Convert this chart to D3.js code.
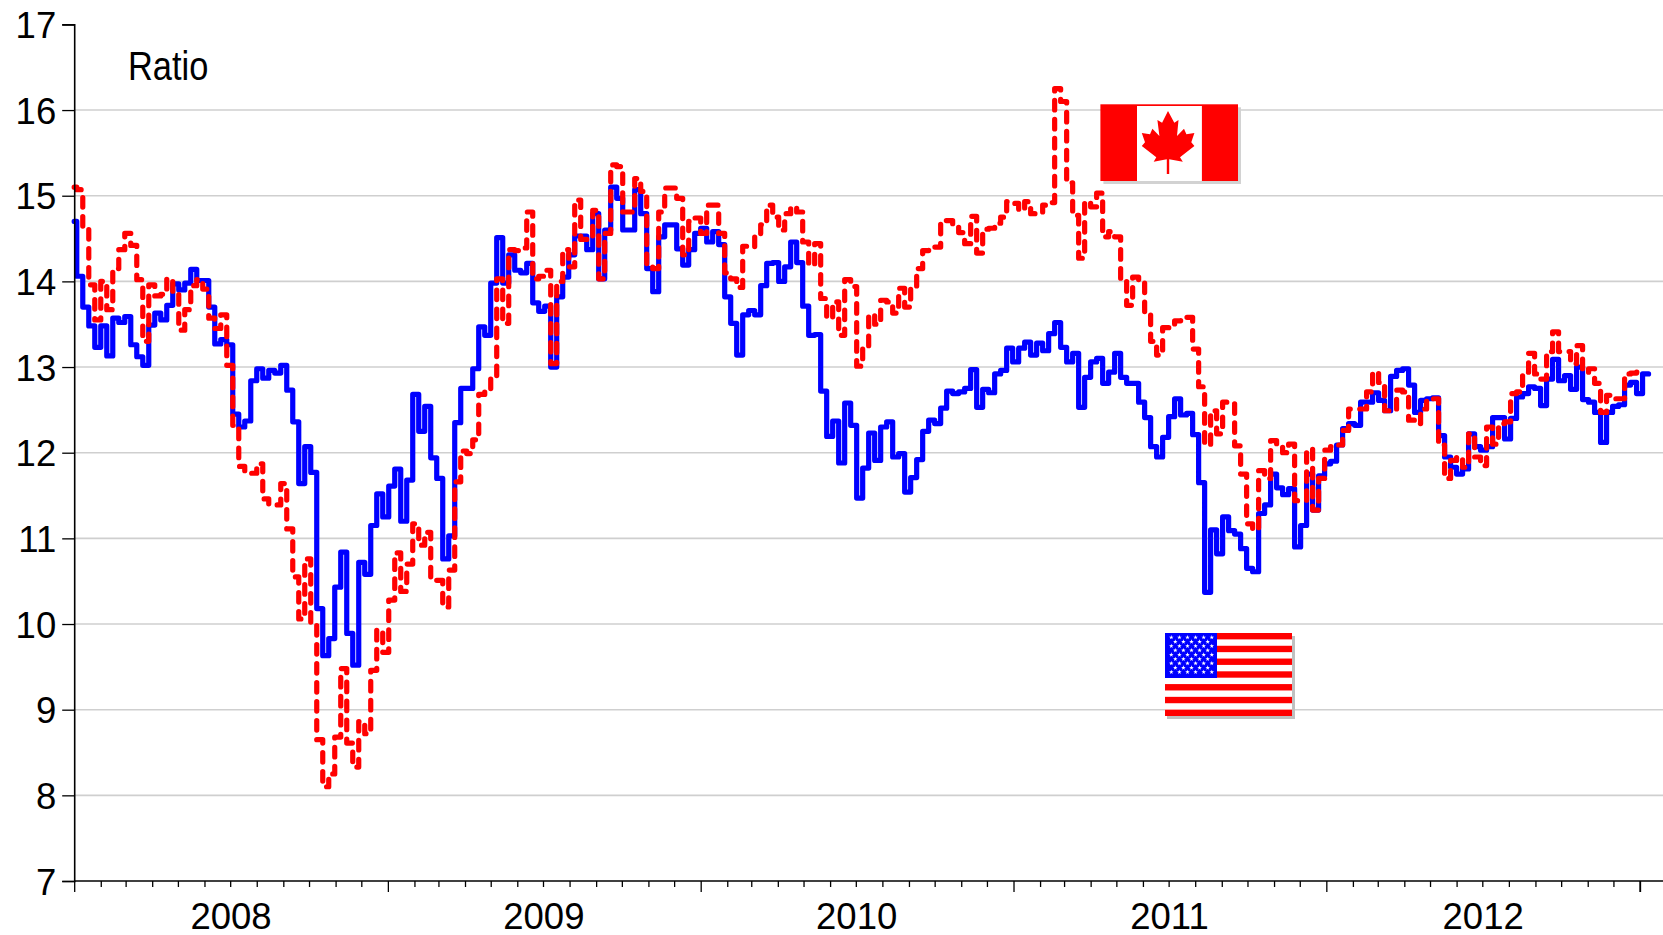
<!DOCTYPE html>
<html>
<head>
<meta charset="utf-8">
<script src="https://cdn.jsdelivr.net/npm/d3@7"></script>
<style>
html,body{margin:0;padding:0;background:#fff;overflow:hidden}
svg{display:block}
text{font-family:"Liberation Sans",Arial,sans-serif;fill:#000}
</style>
</head>
<body>
<div id="chart"></div>
<script>
// Weekly ratio readings; the first entry is the opening value on 1 Jan 2008.
const usRatio = [14.7,
14.06,13.70,13.48,13.23,13.48,13.13,13.57,13.52,13.59,13.26,
13.12,13.02,13.49,13.63,13.55,13.72,13.97,13.90,13.98,14.14,
14.01,14.01,13.70,13.27,13.32,13.26,12.45,12.30,12.37,12.84,
12.98,12.87,12.96,12.93,13.02,12.73,12.36,11.64,12.07,11.77,
10.18,9.63,9.83,10.43,10.84,9.89,9.52,10.72,10.58,11.15,
11.52,11.25,11.61,11.81,11.2,11.68,12.68,12.25,12.54,11.94,
11.7,10.76,11.03,12.35,12.75,12.75,12.98,13.47,13.37,13.98,
14.51,13.98,14.31,14.13,14.1,14.21,13.75,13.65,13.71,13.0,
13.82,14.05,14.31,14.53,14.53,14.37,14.79,14.03,14.6,15.1,
14.97,14.6,14.6,15.07,14.79,14.15,13.88,14.52,14.66,14.66,
14.38,14.19,14.37,14.56,14.62,14.46,14.58,14.43,13.82,13.51,
13.14,13.61,13.66,13.61,13.95,14.21,14.22,14.0,14.17,14.46,
14.22,13.71,13.37,13.38,12.72,12.19,12.37,11.88,12.58,12.32,
11.47,11.82,12.23,11.91,12.3,12.36,11.95,11.99,11.54,11.71,
11.92,12.25,12.38,12.34,12.52,12.72,12.69,12.71,12.75,12.97,
12.53,12.74,12.7,12.92,12.96,13.22,13.06,13.22,13.29,13.14,
13.28,13.19,13.39,13.52,13.23,13.06,13.16,12.53,12.88,13.06,
13.1,12.81,12.94,13.16,12.88,12.81,12.81,12.59,12.41,12.07,
11.95,12.18,12.42,12.63,12.44,12.46,12.21,11.65,10.37,11.1,
10.82,11.25,11.09,11.05,10.88,10.65,10.61,11.29,11.39,11.75,
11.59,11.51,11.58,10.9,11.15,11.75,11.33,11.73,11.87,11.9,
12.09,12.28,12.34,12.32,12.59,12.59,12.7,12.61,12.49,12.89,
12.96,12.98,12.79,12.47,12.61,12.63,12.64,12.2,11.95,11.83,
11.75,11.81,12.22,12.07,12.03,12.07,12.41,12.41,12.16,12.4,
12.65,12.69,12.77,12.75,12.55,12.86,13.09,12.84,12.9,12.74,
13,12.62,12.59,12.47,12.12,12.47,12.54,12.56,12.79,12.82,12.69,12.92,12.92];

const canadaRatio = [15.1,
15.07,14.62,13.96,13.55,14.0,13.67,14.15,14.37,14.56,14.42,
14.02,13.3,13.96,13.83,13.85,14.03,13.86,13.43,13.67,13.95,
14.02,13.91,13.57,13.45,13.61,13.02,12.32,11.84,11.77,11.76,
11.87,11.46,11.39,11.39,11.64,11.11,10.55,10.06,10.76,10.0,
8.65,8.1,8.25,8.68,9.48,8.61,8.33,8.86,8.72,9.46,
9.93,9.67,10.28,10.83,10.38,10.7,11.17,10.92,11.07,10.55,
10.51,10.2,10.63,11.66,12.02,11.99,12.15,12.68,12.74,12.89,
14.03,13.51,14.37,14.36,14.39,14.81,14.03,14.06,14.13,13.04,
14.0,14.37,14.17,14.95,14.49,14.5,14.83,14.03,14.56,15.36,
15.34,14.81,14.81,15.2,15.05,14.17,14.15,14.81,15.09,15.09,
14.97,14.31,14.7,14.74,14.56,14.89,14.89,14.56,14.1,14.03,
13.93,14.41,14.4,14.52,14.66,14.89,14.75,14.6,14.79,14.87,
14.81,14.46,14.19,14.44,13.8,13.57,13.76,13.37,14.02,13.94,
13.01,13.22,13.61,13.5,13.78,13.76,13.63,13.92,13.7,13.94,
14.15,14.36,14.37,14.4,14.71,14.71,14.67,14.57,14.44,14.76,
14.33,14.61,14.62,14.68,14.75,14.93,14.91,14.83,14.93,14.79,
14.79,14.89,14.92,16.25,16.1,15.15,14.77,14.27,14.93,14.87,
15.03,14.52,14.58,14.52,14.0,13.72,14.05,14.02,13.64,13.3,
13.14,13.46,13.46,13.54,13.58,13.58,13.21,12.77,12.09,12.49,
12.22,12.59,12.57,12.08,11.75,11.17,11.1,11.79,11.7,12.14,
12.07,12.0,12.1,11.44,11.44,12.04,11.33,11.7,12.03,12.07,
12.09,12.26,12.51,12.51,12.51,12.71,12.94,12.82,12.49,12.49,
12.73,12.71,12.38,12.34,12.51,12.61,12.63,12.09,11.7,11.91,
11.95,11.83,12.22,11.95,11.85,12.3,12.1,12.34,12.36,12.69,
12.71,12.94,13.16,12.92,12.86,13.18,13.41,13.18,13.18,13.04,
13.25,12.94,12.98,12.81,12.47,12.67,12.63,12.63,12.92,12.93,12.94,12.98];

const yearLabels = [2008,2009,2010,2011,2012];
const yTicks = [7,8,9,10,11,12,13,14,15,16,17];
const gridValues = [8,9,10,11,12,13,14,15,16];
const unitLabel = "Ratio";

const W = 1663, H = 935;
const svg = d3.select("#chart").append("svg").attr("width",W).attr("height",H);

const x = d3.scaleUtc()
  .domain([new Date(Date.UTC(2008,0,1)), new Date(Date.UTC(2013,0,1))])
  .range([74.2,1640]);
const y = d3.scaleLinear().domain([7,17]).range([881,24.4]);

// Friday observations; index 0 is the opening value.
const firstFriday = new Date(Date.UTC(2008,0,4));
const dateOf = i => i===0 ? x.domain()[0] : d3.utcDay.offset(firstFriday,(i-1)*7);

// Gridlines
svg.append("g").selectAll("line").data(gridValues).join("line")
  .attr("x1",x.range()[0]).attr("x2",W)
  .attr("y1",d=>y(d)).attr("y2",d=>y(d))
  .attr("stroke","#cfcfcf").attr("stroke-width",1.6);

// Series
const line = d3.line().curve(d3.curveStepAfter)
  .x((d,i)=>x(dateOf(i))).y(d=>y(d));
svg.append("path").datum(usRatio).attr("d",line)
  .attr("fill","none").attr("stroke","#0000ff").attr("stroke-width",5.2)
  .attr("stroke-linejoin","round").attr("stroke-linecap","round");
svg.append("path").datum(canadaRatio).attr("d",line)
  .attr("fill","none").attr("stroke","#ff0000").attr("stroke-width",5.2)
  .attr("stroke-linejoin","round").attr("stroke-linecap","round")
  .attr("stroke-dasharray","9.5 9.5");

// Y axis
const yAxis = svg.append("g").attr("transform",`translate(${x.range()[0]},0)`)
  .call(d3.axisLeft(y).tickValues(yTicks).tickSize(12).tickPadding(6).tickFormat(d3.format("d")));
yAxis.select(".domain").attr("stroke","#000").attr("stroke-width",1.6);
yAxis.selectAll(".tick line").attr("stroke","#000").attr("stroke-width",1.3);
yAxis.selectAll("text").attr("font-size",36.5).attr("dy","0.36em");

// X axis: month ticks, longer at each January
const xAxis = svg.append("g").attr("transform",`translate(0,${y(7)})`)
  .call(d3.axisBottom(x).ticks(d3.utcMonth.every(1)).tickSize(6).tickFormat(""));
xAxis.select(".domain").remove();
xAxis.selectAll(".tick line").attr("stroke","#000").attr("stroke-width",1.3)
  .attr("y2",d=>d.getUTCMonth()===0?11:6);
xAxis.append("line").attr("x1",x.range()[0]).attr("x2",W).attr("stroke","#000").attr("stroke-width",1.6);
xAxis.append("line").attr("x1",x(new Date(Date.UTC(2013,0,1)))).attr("x2",x(new Date(Date.UTC(2013,0,1))))
  .attr("y2",11).attr("stroke","#000").attr("stroke-width",1.3);

svg.append("g").selectAll("text").data(yearLabels).join("text")
  .attr("x",d=>x(new Date(Date.UTC(d,6,2))))
  .attr("y",929).attr("text-anchor","middle").attr("font-size",36.5)
  .text(d=>d);

svg.append("text").attr("transform","translate(128,80) scale(0.84,1)")
  .attr("font-size",41).text(unitLabel);

// Canadian flag
(function(){
  const fx=1100.4, fy=104.3, fw=137.6, fh=76.7;
  const g=svg.append("g");
  g.append("rect").attr("x",fx+3).attr("y",fy+3).attr("width",fw).attr("height",fh).attr("fill","#d2d2d2");
  g.append("rect").attr("x",fx).attr("y",fy).attr("width",fw).attr("height",fh).attr("fill","#ff0000");
  g.append("rect").attr("x",fx+36.6).attr("y",fy+1.7).attr("width",64.9).attr("height",fh-1.7).attr("fill","#fff");
  const leaf=[[0,0],[6.3,11.7],[10.5,9],[9,25],[16,17.7],[18.4,23.3],[26.4,22],[23.3,31.3],[26.4,35],[12,46.3],[14.8,50.7],[1.2,48.3],[1.2,63],[-1.2,63],[-1.2,48.3],[-14.3,50.7],[-11.7,46.3],[-26.2,35],[-23,31.3],[-26.2,22],[-18,23.3],[-15.6,17.7],[-8.6,25],[-10.6,9],[-5.9,11.7]];
  g.append("polygon").attr("fill","#ff0000")
    .attr("transform",`translate(1168,111)`)
    .attr("points",leaf.map(p=>p.join(",")).join(" "));
})();

// US flag
(function(){
  const fx=1165, fy=633, fw=127, fh=83;
  const g=svg.append("g");
  g.append("rect").attr("x",fx+2).attr("y",fy+3).attr("width",fw+1).attr("height",fh).attr("fill","#c0c0c0");
  g.append("rect").attr("x",fx).attr("y",fy).attr("width",fw).attr("height",fh).attr("fill","#fff");
  d3.range(7).forEach(i=>{
    g.append("rect").attr("x",fx).attr("y",fy+i*2*fh/13).attr("width",fw).attr("height",fh/13).attr("fill","#ff0000");
  });
  const cw=52, ch=45;
  g.append("rect").attr("x",fx).attr("y",fy).attr("width",cw).attr("height",ch).attr("fill","#0000ff");
  const star=d3.range(10).map(i=>{
    const r=i%2?0.95:2.4, a=i*Math.PI/5;
    return [r*Math.sin(a),-r*Math.cos(a)].join(",");
  }).join(" ");
  d3.range(9).forEach(r=>{
    const n=r%2?5:6;
    d3.range(n).forEach(c=>{
      g.append("polygon").attr("points",star).attr("fill","#fff")
       .attr("transform",`translate(${fx+6.3+(r%2?4:0)+c*8.1},${fy+4.4+r*4.33})`);
    });
  });
})();
</script>
</body>
</html>
